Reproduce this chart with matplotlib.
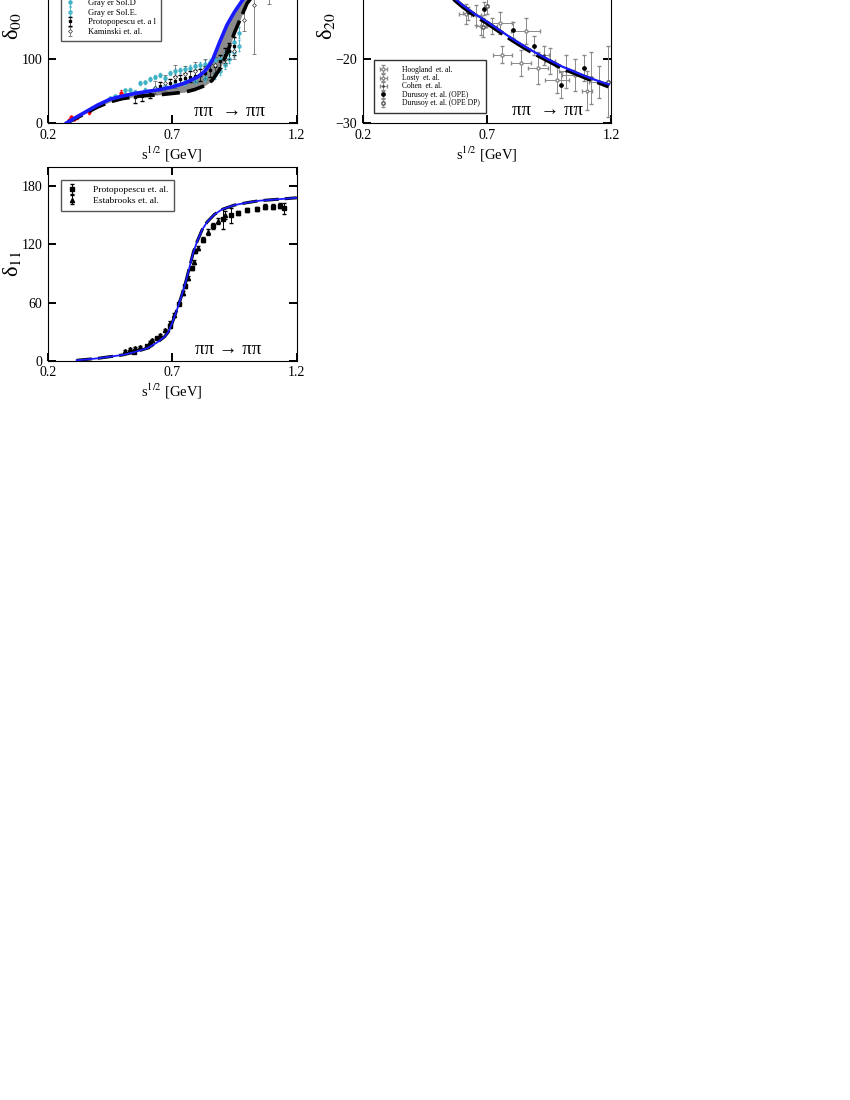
import numpy as np
import matplotlib.pyplot as plt

plt.rcParams['font.family'] = ['Liberation Serif', 'DejaVu Serif']
plt.rcParams['mathtext.fontset'] = 'stix'

# ---------------- delta_00 data ----------------
d00_blue_x = [0.275, 0.3, 0.35, 0.4, 0.45, 0.5, 0.55, 0.6, 0.65, 0.7, 0.75, 0.8, 0.83, 0.86, 0.89, 0.92, 0.95, 0.98, 1.0, 1.05, 1.1, 1.2]
d00_blue_y = [0, 6, 17, 28, 37, 42, 46, 49, 52, 56, 62, 71, 80, 96, 125, 152, 172, 189, 198, 218, 232, 252]
d00_dash_x = [0.275, 0.3, 0.35, 0.4, 0.45, 0.5, 0.57, 0.65, 0.7, 0.75, 0.79, 0.83, 0.86, 0.89, 0.92, 0.95, 0.97, 1.0, 1.05, 1.1, 1.2]
d00_dash_y = [0, 5, 15, 25, 33, 38, 42, 44, 46, 48, 52, 58, 66, 83, 108, 140, 158, 185, 210, 225, 245]

ke4_x = [0.286, 0.295, 0.305, 0.318, 0.367, 0.494]
ke4_y = [5, 9, 7, 9, 17, 47]
ke4_err = [2, 2, 2, 2, 3, 4]

grayer_d_x = [0.45, 0.47, 0.51, 0.53, 0.57, 0.59, 0.61, 0.63, 0.65, 0.67, 0.69, 0.71, 0.73, 0.75, 0.77, 0.79, 0.81, 0.83, 0.85, 0.87, 0.89, 0.91, 0.93, 0.95, 0.97]
grayer_d_y = [39, 42, 51, 52, 62, 63, 68, 72, 74, 70, 78, 80, 82, 84, 86, 88, 90, 92, 94, 97, 100, 105, 112, 125, 140]
grayer_d_err = [2, 2, 2, 2, 3, 3, 3, 3, 3, 3, 3, 4, 4, 4, 4, 4, 5, 5, 5, 5, 6, 6, 7, 8, 9]
grayer_e_x = [0.49, 0.51, 0.55, 0.59, 0.63, 0.67, 0.71, 0.75, 0.79, 0.83, 0.87, 0.89, 0.91, 0.93, 0.95, 0.97]
grayer_e_y = [42, 44, 48, 52, 55, 58, 60, 63, 66, 70, 74, 80, 90, 100, 110, 120]
grayer_e_err = [2, 2, 3, 3, 3, 3, 4, 4, 4, 5, 5, 5, 6, 7, 8, 9]

proto00_x = [0.55, 0.58, 0.61, 0.65, 0.69, 0.71, 0.73, 0.75, 0.77, 0.79, 0.81, 0.83, 0.85, 0.87, 0.89, 0.91, 0.93, 0.95]
proto00_y = [40, 42, 45, 58, 62, 66, 68, 70, 72, 73, 75, 78, 82, 88, 96, 105, 112, 120]
proto00_err = [8, 7, 6, 6, 6, 7, 7, 8, 8, 9, 9, 10, 10, 10, 10, 12, 12, 14]

kam_x = [0.63, 0.67, 0.71, 0.75, 0.79, 0.83, 0.87, 0.91, 0.95, 0.99, 1.03, 1.09]
kam_y = [55, 62, 72, 76, 80, 85, 90, 100, 112, 160, 182, 215]
kam_err = [10, 12, 18, 12, 14, 15, 12, 10, 12, 18, 75, 30]

# ---------------- delta_20 data ----------------
d20_x = [0.28, 0.35, 0.4, 0.45, 0.5, 0.56, 0.6, 0.65, 0.7, 0.75, 0.8, 0.85, 0.9, 0.95, 1.0, 1.05, 1.1, 1.15, 1.19]
d20_blue_y = [0, -3, -5, -6.8, -8.3, -10.4, -11.7, -13.1, -14.3, -15.6, -16.9, -18.1, -19.2, -20.2, -21.2, -22.0, -22.8, -23.5, -24.0]
d20_dash_y = [0, -3.1, -5.1, -7.0, -8.5, -10.6, -11.9, -13.3, -14.5, -15.8, -17.1, -18.3, -19.4, -20.4, -21.4, -22.2, -23.0, -23.7, -24.3]

hoog_x = [0.617, 0.754, 0.855, 0.762, 0.838, 0.905, 0.982, 1.053, 1.151]
hoog_y = [-13.1, -14.5, -15.7, -19.4, -20.7, -21.5, -23.3, -22.5, -23.6]
hoog_xerr = [0.03, 0.045, 0.06, 0.04, 0.04, 0.04, 0.05, 0.05, 0.04]
hoog_yerr = [1.5, 1.7, 2.0, 1.3, 2.0, 2.5, 2.0, 2.5, 2.5]
losty_x = [0.655, 0.677, 0.952, 1.104]
losty_y = [-13.3, -14.9, -20.4, -25.0]
losty_xerr = [0.02, 0.02, 0.02, 0.02]
losty_yerr = [1.5, 1.5, 2.0, 3.0]
cohen_x = [0.625, 0.72, 0.93, 1.02]
cohen_y = [-13.0, -15.0, -19.5, -22.0]
cohen_xerr = [0.02, 0.02, 0.02, 0.03]
cohen_yerr = [1.0, 1.2, 1.5, 2.5]
dur_x = [0.688, 0.805, 0.89, 0.997, 1.089]
dur_y = [-12.3, -15.6, -18.0, -24.1, -21.4]
dur_err = [1.0, 1.2, 1.5, 2.0, 2.0]
durdp_x = [0.70, 0.685, 1.12, 1.187]
durdp_y = [-11.9, -15.2, -23.0, -23.6]
durdp_err = [1.2, 1.5, 4.0, 5.5]

# ---------------- delta_11 data ----------------
d11_x = [0.316, 0.4, 0.5, 0.55, 0.6, 0.64, 0.67, 0.685, 0.70, 0.725, 0.74, 0.755, 0.77, 0.785, 0.80, 0.82, 0.84, 0.87, 0.9, 0.95, 1.0, 1.05, 1.1, 1.15, 1.2]
d11_y = [0.5, 2.5, 6, 9, 13, 19, 25, 30, 39, 57, 69, 82, 97, 112, 123, 135, 143, 151, 156, 160.5, 163, 165, 166, 167, 168]

proto11_x = [0.545, 0.6, 0.64, 0.69, 0.728, 0.75, 0.778, 0.792, 0.825, 0.865, 0.905, 0.935, 0.965, 0.999, 1.04, 1.073, 1.104, 1.133, 1.15]
proto11_y = [9, 15, 23, 36, 59, 77, 96, 113, 125, 139, 146, 150, 152, 155, 156.5, 159, 159, 160, 157]
proto11_err = [1, 1, 1, 2, 2, 2, 2, 2, 3, 3, 10, 8, 2, 2, 2, 3, 3, 3, 6]
estab_x = [0.51, 0.53, 0.55, 0.57, 0.611, 0.62, 0.651, 0.671, 0.691, 0.707, 0.742, 0.765, 0.788, 0.805, 0.845, 0.885, 0.91]
estab_y = [10.3, 11.8, 12.8, 13.8, 19.6, 21, 26.6, 31.7, 38.7, 47, 69.7, 85, 102, 116, 133, 143.7, 150]
estab_err = [1, 1, 1, 1, 1, 1, 1, 1, 2, 2, 2, 2, 2, 2, 3, 3, 4]

xticks = [0.2, 0.7, 1.2]

fig = plt.figure(figsize=(8.5, 11), dpi=100)
ax1 = fig.add_axes([0.0561, 0.888, 0.293, 0.1764])
ax2 = fig.add_axes([0.427, 0.888, 0.292, 0.1764])
ax3 = fig.add_axes([0.0561, 0.672, 0.293, 0.1764])


def style(ax, ylim, yticks, yticklabels, ylab, lab_x):
    ax.set_xlim(0.2, 1.2)
    ax.set_ylim(*ylim)
    ax.set_xticks(xticks)
    ax.set_xticklabels(['0.2', '0.7', '1.2'])
    ax.set_yticks(yticks)
    ax.set_yticklabels(yticklabels)
    ax.tick_params(direction='in', top=True, right=True, length=5.5, width=1.4,
                   labelsize=10, pad=4)
    for s in ax.spines.values():
        s.set_linewidth(0.8)
    ax.set_xlabel(r's$^{1/2}$ [GeV]', fontsize=10.5, labelpad=2)
    ax.set_ylabel(ylab, fontsize=16)
    ax.yaxis.set_label_coords(lab_x, 0.5)


cyan = '#3fb2c6'
arrow_txt = 'ππ  \u2192 ππ'

# delta_00 (upper part of the panel lies above the page edge)
ax1.fill_between(d00_blue_x, d00_blue_y, np.interp(d00_blue_x, d00_dash_x, d00_dash_y),
                 color='#8c8c8c', lw=0, zorder=1)
ax1.errorbar(grayer_d_x, grayer_d_y, yerr=grayer_d_err, fmt='o', ms=2.2, color=cyan,
             ecolor=cyan, elinewidth=0.6, capsize=1, label='Gray er Sol.D', zorder=3)
ax1.errorbar(grayer_e_x, grayer_e_y, yerr=grayer_e_err, fmt='o', ms=2.2, mfc='none',
             mec=cyan, ecolor=cyan, elinewidth=0.6, capsize=1, label='Gray er Sol.E.', zorder=3)
ax1.errorbar(proto00_x, proto00_y, yerr=proto00_err, fmt='s', ms=1.8, color='black',
             elinewidth=0.5, capsize=1.5, label='Protopopescu et. a l', zorder=3)
ax1.errorbar(kam_x, kam_y, yerr=kam_err, fmt='D', ms=2, mfc='white', mec='#333333',
             mew=0.5, ecolor='#555555', elinewidth=0.5, capsize=1.5,
             label='Kaminski et. al.', zorder=3)
ax1.errorbar(ke4_x, ke4_y, yerr=ke4_err, fmt='o', ms=2, color='red', elinewidth=0.6,
             capsize=1, zorder=4)
ax1.plot(d00_dash_x, d00_dash_y, color='black', lw=2.6, ls=(0, (5, 2)), zorder=5)
ax1.plot(d00_blue_x, d00_blue_y, color='#1a1aff', lw=2.6, zorder=6)
style(ax1, (0, 300), [0, 100, 200, 300], ['0', '100', '', ''], 'δ$_{00}$', -0.1)
ax1.text(0.73, 0.06, arrow_txt, transform=ax1.transAxes,
         ha='center', va='center', fontsize=13.5)
ax1.legend(loc='lower left', bbox_to_anchor=(0.035, 0.4), fontsize=6.1,
           frameon=True, fancybox=False, edgecolor='#555555', framealpha=1,
           handlelength=1.0, handletextpad=1.6, labelspacing=0.22, borderpad=0.6)

# delta_20
gray = '#8a8a8a'
ax2.errorbar(hoog_x, hoog_y, xerr=hoog_xerr, yerr=hoog_yerr, fmt='o', ms=2.2, mfc='white',
             mec=gray, ecolor=gray, elinewidth=0.7, capsize=1.5, label='Hoogland  et. al.')
ax2.errorbar(losty_x, losty_y, xerr=losty_xerr, yerr=losty_yerr, fmt='o', ms=2, mfc='white',
             mec=gray, ecolor=gray, elinewidth=0.7, capsize=1.5, label='Losty  et. al.')
ax2.errorbar(cohen_x, cohen_y, xerr=cohen_xerr, yerr=cohen_yerr, fmt='.', ms=2, color='#444444',
             ecolor=gray, elinewidth=0.7, capsize=1.5, label='Cohen  et. al.')
ax2.errorbar(dur_x, dur_y, yerr=dur_err, fmt='o', ms=2.4, color='black',
             ecolor=gray, elinewidth=0.7, capsize=1.5, label='Durusoy et. al. (OPE)')
ax2.errorbar(durdp_x, durdp_y, yerr=durdp_err, fmt='o', ms=2.4, mfc='white', mec='#555555',
             ecolor=gray, elinewidth=0.7, capsize=1.5, label='Durusoy et. al. (OPE DP)')
ax2.plot(d20_x, d20_dash_y, color='black', lw=3.2, ls=(0, (6, 1.5)), zorder=5)
ax2.plot(d20_x, d20_blue_y, color='#1a1aff', lw=1.6, zorder=6)
style(ax2, (-30, 0), [-30, -20, -10, 0], ['\u221230', '\u221220', '', ''], 'δ$_{20}$', -0.105)
ax2.text(0.745, 0.067, arrow_txt, transform=ax2.transAxes,
         ha='center', va='center', fontsize=13.5)
ax2.legend(loc='lower left', bbox_to_anchor=(0.03, 0.035), fontsize=5.5,
           frameon=True, fancybox=False, edgecolor='#333333', framealpha=1,
           handlelength=1.0, handleheight=0.5, handletextpad=2.0, labelspacing=0.05,
           borderpad=0.7)

# delta_11
ax3.errorbar(proto11_x, proto11_y, yerr=proto11_err, fmt='s', ms=3, color='black',
             elinewidth=0.7, capsize=1.5, label='Protopopescu et. al.', zorder=3)
ax3.errorbar(estab_x, estab_y, yerr=estab_err, fmt='^', ms=3, color='black',
             elinewidth=0.7, capsize=1.5, label='Estabrooks et. al.', zorder=3)
ax3.plot(d11_x, d11_y, color='black', lw=2.2, ls=(0, (5, 2)), zorder=4)
ax3.plot(d11_x, d11_y, color='#1a1aff', lw=1.3, zorder=5)
style(ax3, (0, 200), [0, 60, 120, 180], ['0', '60', '120', '180'], 'δ$_{11}$', -0.1)
ax3.text(0.725, 0.06, 'ππ \u2192 ππ', transform=ax3.transAxes,
         ha='center', va='center', fontsize=13.5)
ax3.legend(loc='upper left', bbox_to_anchor=(0.035, 0.955), fontsize=6.8,
           frameon=True, fancybox=False, edgecolor='#555555', framealpha=1,
           handlelength=1.0, handletextpad=1.8, labelspacing=0.2, borderpad=0.6)

plt.savefig('out.png', dpi=100)
